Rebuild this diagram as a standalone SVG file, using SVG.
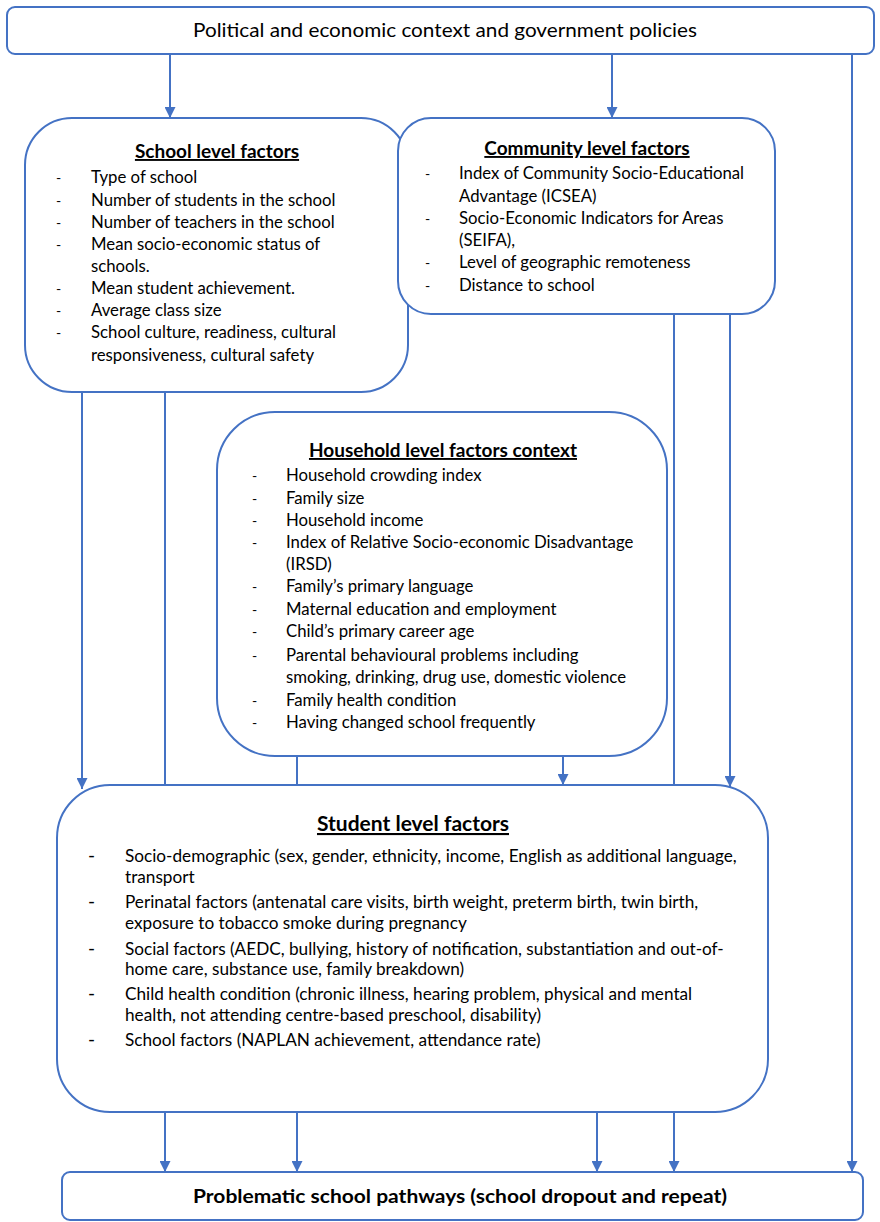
<svg xmlns="http://www.w3.org/2000/svg" width="880" height="1222" viewBox="0 0 880 1222">
<style>
.box{fill:#fff;stroke:#4472C4;stroke-width:2}
.c{stroke:#4472C4;stroke-width:2;fill:none}
.a{marker-end:url(#ah)}
text{font-family:Lato,"Liberation Sans",sans-serif;fill:#000}
.t{font-size:16.75px}
.d{font-size:14px}
.h{font-size:19px;font-weight:bold;text-decoration:underline;text-anchor:middle}
.s{font-size:17.2px}
.sd{font-size:19px}
</style>
<defs>
<marker id="ah" markerUnits="userSpaceOnUse" markerWidth="11" markerHeight="11" refX="10" refY="5" orient="auto" viewBox="0 0 10 10">
<path d="M0,0 L10,5 L0,10 Z" fill="#4472C4"/>
</marker>
</defs>
<rect width="880" height="1222" fill="#fff"/>
<g id="connectors">
<line class="c a" x1="170" y1="54" x2="170" y2="118"/>
<line class="c a" x1="612" y1="54" x2="612" y2="118"/>
<line class="c a" x1="852" y1="54" x2="852" y2="1172"/>
<line class="c a" x1="82" y1="392" x2="82" y2="789"/>
<line class="c" x1="165" y1="392" x2="165" y2="785"/>
<line class="c" x1="297" y1="756" x2="297" y2="785"/>
<line class="c a" x1="563" y1="756" x2="563" y2="785"/>
<line class="c" x1="674" y1="314" x2="674" y2="785"/>
<line class="c a" x1="730" y1="314" x2="730" y2="787"/>
<line class="c a" x1="165" y1="1112" x2="165" y2="1172"/>
<line class="c a" x1="297" y1="1112" x2="297" y2="1172"/>
<line class="c a" x1="597" y1="1110" x2="597" y2="1172"/>
<line class="c a" x1="674" y1="1112" x2="674" y2="1172"/>
</g>
<g id="context">
<rect class="box" x="7" y="7" width="867" height="47" rx="8"/>
<text x="445" y="37" font-size="19" text-anchor="middle" textLength="504" lengthAdjust="spacingAndGlyphs">Political and economic context and government policies</text>
</g>
<g id="school">
<rect class="box" x="25" y="118" width="383" height="274" rx="47"/>
<text class="h" x="217" y="158">School level factors</text>
<g class="d"><text x="56" y="183">-</text><text x="56" y="206">-</text><text x="56" y="228">-</text><text x="56" y="250">-</text><text x="56" y="294">-</text><text x="56" y="316">-</text><text x="56" y="338">-</text></g>
<g class="t">
<text x="91" y="183">Type of school</text>
<text x="91" y="206">Number of students in the school</text>
<text x="91" y="228">Number of teachers in the school</text>
<text x="91" y="250">Mean socio-economic status of</text>
<text x="91" y="272">schools.</text>
<text x="91" y="294">Mean student achievement.</text>
<text x="91" y="316">Average class size</text>
<text x="91" y="338">School culture, readiness, cultural</text>
<text x="91" y="361">responsiveness, cultural safety</text>
</g>
</g>
<g id="community">
<rect class="box" x="398" y="118" width="377" height="196" rx="33"/>
<text class="h" x="587" y="155">Community level factors</text>
<g class="d"><text x="425" y="179">-</text><text x="425" y="224">-</text><text x="425" y="268">-</text><text x="425" y="291">-</text></g>
<g class="t">
<text x="459" y="179">Index of Community Socio-Educational</text>
<text x="459" y="202">Advantage (ICSEA)</text>
<text x="459" y="224">Socio-Economic Indicators for Areas</text>
<text x="459" y="246">(SEIFA),</text>
<text x="459" y="268">Level of geographic remoteness</text>
<text x="459" y="291">Distance to school</text>
</g>
</g>
<g id="household">
<rect class="box" x="217" y="412" width="450" height="344" rx="58"/>
<text class="h" x="443" y="457">Household level factors context</text>
<g class="d"><text x="252" y="481">-</text><text x="252" y="504">-</text><text x="252" y="526">-</text><text x="252" y="548">-</text><text x="252" y="592">-</text><text x="252" y="615">-</text><text x="252" y="637">-</text><text x="252" y="661">-</text><text x="252" y="706">-</text><text x="252" y="728">-</text></g>
<g class="t">
<text x="286" y="481">Household crowding index</text>
<text x="286" y="504">Family size</text>
<text x="286" y="526">Household income</text>
<text x="286" y="548">Index of Relative Socio-economic Disadvantage</text>
<text x="286" y="570">(IRSD)</text>
<text x="286" y="592">Family’s primary language</text>
<text x="286" y="615">Maternal education and employment</text>
<text x="286" y="637">Child’s primary career age</text>
<text x="286" y="661">Parental behavioural problems including</text>
<text x="286" y="683">smoking, drinking, drug use, domestic violence</text>
<text x="286" y="706">Family health condition</text>
<text x="286" y="728">Having changed school frequently</text>
</g>
</g>
<g id="student">
<rect class="box" x="57" y="785" width="711" height="327" rx="53"/>
<text class="h" x="413" y="831" style="font-size:21px">Student level factors</text>
<g class="sd"><text x="88" y="862">-</text><text x="88" y="908">-</text><text x="88" y="955">-</text><text x="88" y="1000">-</text><text x="88" y="1046">-</text></g>
<g class="s">
<text x="125" y="862">Socio-demographic (sex, gender, ethnicity, income, English as additional language,</text>
<text x="125" y="883">transport</text>
<text x="125" y="908">Perinatal factors (antenatal care visits, birth weight, preterm birth, twin birth,</text>
<text x="125" y="929">exposure to tobacco smoke during pregnancy</text>
<text x="125" y="955">Social factors (AEDC, bullying, history of notification, substantiation and out-of-</text>
<text x="125" y="975">home care, substance use, family breakdown)</text>
<text x="125" y="1000">Child health condition (chronic illness, hearing problem, physical and mental</text>
<text x="125" y="1021">health, not attending centre-based preschool, disability)</text>
<text x="125" y="1046">School factors (NAPLAN achievement, attendance rate)</text>
</g>
</g>
<g id="outcome">
<rect class="box" x="62" y="1172" width="801" height="48" rx="8"/>
<text x="460" y="1203" font-size="19" font-weight="bold" text-anchor="middle" textLength="534" lengthAdjust="spacingAndGlyphs">Problematic school pathways (school dropout and repeat)</text>
</g>
</svg>
